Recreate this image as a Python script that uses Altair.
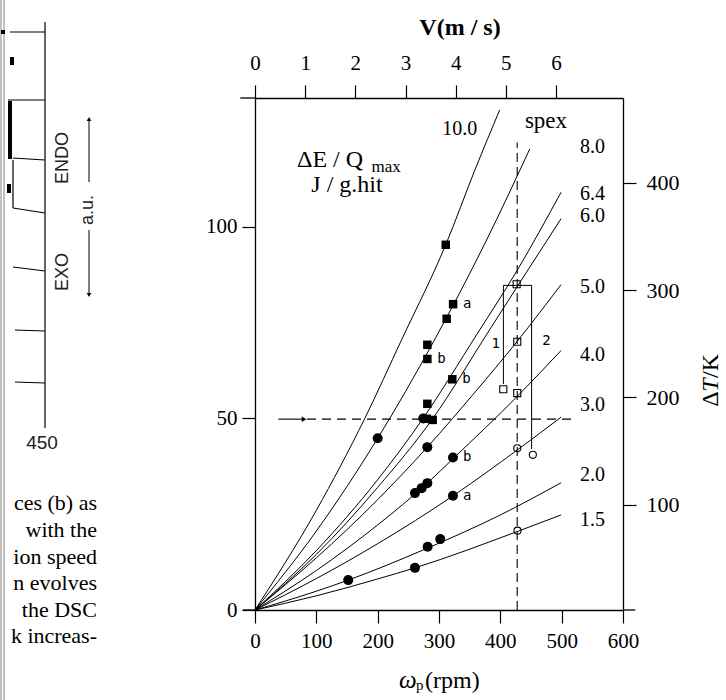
import altair as alt
import pandas as pd

SERIF = "Liberation Serif"
SANS = "Liberation Sans"
MONO = "DejaVu Sans Mono"

# ---------------- curves: omega_p (rpm) vs dE/Qmax (J/g.hit) ----------------
curve_names = ["10.0", "8.0", "6.4", "6.0", "5.0", "4.0", "3.0", "2.0", "1.5"]
rpm_c100 = [0, 100, 179, 239, 311, 359, 399]
val_c100 = [0, 26.0, 50.0, 70.5, 95.3, 115.0, 130.5]
rpm_c80 = [0, 100, 200, 291, 375, 448]
val_c80 = [0, 20.6, 44.8, 70.0, 95.7, 120.3]
rpm_c64 = [0, 100, 200, 274, 362, 427, 499]
val_c64 = [0, 15.5, 34.0, 50.0, 72.0, 88.5, 109.0]
rpm_c60 = [0, 100, 200, 290, 382, 428, 499]
val_c60 = [0, 14.5, 32.0, 50.0, 73.0, 84.5, 102.1]
rpm_c50 = [0, 100, 200, 281, 359, 427, 499]
val_c50 = [0, 13.6, 28.8, 42.5, 56.9, 70.0, 84.9]
rpm_c40 = [0, 100, 200, 281, 323, 428, 499]
val_c40 = [0, 10.3, 22.2, 33.1, 39.5, 55.8, 67.7]
rpm_c30 = [0, 100, 200, 323, 428, 499]
val_c30 = [0, 8.2, 17.3, 29.8, 41.8, 50.3]
rpm_c20 = [0, 100, 152, 282, 400, 499]
val_c20 = [0, 4.9, 7.8, 16.2, 24.8, 33.2]
rpm_c15 = [0, 100, 200, 261, 428, 499]
val_c15 = [0, 3.7, 8.1, 11.0, 20.5, 24.8]

# filled squares / circles (experimental points)
sq_rpm = [311, 323, 312.5, 281, 281, 321.7, 281, 280, 289.7]
sq_val = [95.3, 79.8, 76.0, 69.2, 65.5, 60.2, 53.8, 49.9, 49.6]
sq_tag = ["", "a", "", "", "b", "b", "", "", ""]
ci_rpm = [200, 274.4, 281, 322.8, 281, 271.7, 260.8, 322.8, 302, 281.5, 260.8, 152]
ci_val = [44.8, 50.0, 42.5, 39.8, 33.1, 31.8, 30.5, 29.8, 18.5, 16.5, 11.0, 7.8]
ci_tag = ["", "", "", "b", "", "", "", "a", "", "", "", ""]
# open symbols (spex)
osq_rpm = [404.8, 427.6, 427.6, 426.6]
osq_val = [57.6, 56.6, 70.0, 85.0]
oci_rpm = [427.6, 428, 453]
oci_val = [42.2, 20.7, 40.5]
# bracket joining the spex points (labels 1 and 2)
br_rpm = [405, 405, 451, 451]
br_val = [59.0, 84.7, 84.7, 42.0]
# dashed guides
vdash_rpm = [427.5]
vdash_from = [0]
vdash_to = [122]
hdash_val = [49.8]
hdash_from = [84.8]
hdash_to = [516]
arrow_from = [38]
arrow_to = [80]

# axes
x_ticks = [0, 100, 200, 300, 400, 500, 600]
y_ticks = [0, 50, 100]
v_ticks = [0, 1, 2, 3, 4, 5, 6]
dt_ticks = [100, 200, 300, 400]

# ---------------- left fragment of the neighbouring figure (page pixels) ----------------
frag_x1 = [45, 10, 8, 13, 13, 13, 13, 15, 15]
frag_y1 = [22, 32, 100, 158, 160, 208, 267, 330, 382]
frag_x2 = [45, 45, 45, 45, 13, 45, 45, 45, 45]
frag_y2 = [428, 32, 100, 160, 208, 213, 271, 331, 383]
blob_x = [10, 12, 9, 3]
blob_y1 = [101, 57, 184, 30]
blob_y2 = [159, 65, 193, 34]
arrow_x = [89, 89]
arrow_y1 = [121, 230]
arrow_y2 = [182, 293]
head_y = [119, 295]
head_shape = ["triangle-up", "triangle-down"]
border_x = [1, 4]
body_lines = ["ces (b) as", "with the", "ion speed", "n evolves", "the DSC", "k increas-"]
body_y = [503, 530, 557, 583, 610, 636]

# ---------------- scales ----------------
W, H = 368, 512
XS = alt.Scale(domain=[0, 600], nice=False, zero=False)
YS = alt.Scale(domain=[0, 133.6], nice=False, zero=False)
PX = alt.Scale(domain=[0, 726], range=[-255, 471], nice=False, zero=False)
PY = alt.Scale(domain=[0, 700], range=[-98, 602], nice=False, zero=False)


def axis(orient, values, pad, size=21):
    return alt.Axis(orient=orient, values=values, title=None, grid=False, tickSize=13,
                    tickWidth=1.2, tickColor="black", domain=True, domainColor="black",
                    domainWidth=1.3, labelFont=SERIF, labelFontSize=size, labelColor="black",
                    labelPadding=pad, labelFlush=False, labelOverlap=False, format="d")


# ---------------- main plot layers ----------------
rows = []
for name, xs_, ys_ in zip(curve_names,
                          [rpm_c100, rpm_c80, rpm_c64, rpm_c60, rpm_c50, rpm_c40, rpm_c30, rpm_c20, rpm_c15],
                          [val_c100, val_c80, val_c64, val_c60, val_c50, val_c40, val_c30, val_c20, val_c15]):
    for i, (a, b) in enumerate(zip(xs_, ys_)):
        rows.append({"curve": name, "rpm": a, "val": b, "i": i})
curves_df = pd.DataFrame(rows)

X = lambda f: alt.X(f, scale=XS, axis=None)
Y = lambda f: alt.Y(f, scale=YS, axis=None)

curves = alt.Chart(curves_df).mark_line(color="black", strokeWidth=1, interpolate="monotone").encode(
    x=X("rpm:Q"), y=Y("val:Q"), detail="curve:N", order="i:Q")

ext = alt.Chart(pd.DataFrame({"a": [-20, 600, -24], "b": [0, 620, 0], "v": [0, 0, 133.6]})).mark_rule(
    color="black", strokeWidth=1.3).encode(x=X("a:Q"), x2="b:Q", y=Y("v:Q"))

vdash = alt.Chart(pd.DataFrame({"r": vdash_rpm, "a": vdash_from, "b": vdash_to})).mark_rule(
    color="black", strokeWidth=1.1, strokeDash=[9, 5]).encode(x=X("r:Q"), y=Y("a:Q"), y2="b:Q")
hdash = alt.Chart(pd.DataFrame({"v": hdash_val, "a": hdash_from, "b": hdash_to})).mark_rule(
    color="black", strokeWidth=1.1, strokeDash=[9, 6]).encode(y=Y("v:Q"), x=X("a:Q"), x2="b:Q")
shaft = alt.Chart(pd.DataFrame({"v": hdash_val, "a": arrow_from, "b": arrow_to})).mark_rule(
    color="black", strokeWidth=1.1).encode(y=Y("v:Q"), x=X("a:Q"), x2="b:Q")
head = alt.Chart(pd.DataFrame({"v": hdash_val, "b": arrow_to})).mark_point(
    shape="triangle-right", filled=True, size=30, color="black", opacity=1).encode(y=Y("v:Q"), x=X("b:Q"))

bracket = alt.Chart(pd.DataFrame({"r": br_rpm, "v": br_val, "i": range(4)})).mark_line(
    color="black", strokeWidth=1).encode(x=X("r:Q"), y=Y("v:Q"), order="i:Q")

sq_df = pd.DataFrame({"r": sq_rpm, "v": sq_val, "t": sq_tag})
ci_df = pd.DataFrame({"r": ci_rpm, "v": ci_val, "t": ci_tag})
sq = alt.Chart(sq_df).mark_point(shape="square", filled=True, size=72, color="black", opacity=1).encode(
    x=X("r:Q"), y=Y("v:Q"))
ci = alt.Chart(ci_df).mark_circle(size=100, color="black", opacity=1).encode(x=X("r:Q"), y=Y("v:Q"))
osq = alt.Chart(pd.DataFrame({"r": osq_rpm, "v": osq_val})).mark_point(
    shape="square", filled=False, size=50, color="black", strokeWidth=1.1, opacity=1).encode(
    x=X("r:Q"), y=Y("v:Q"))
oci = alt.Chart(pd.DataFrame({"r": oci_rpm, "v": oci_val})).mark_point(
    shape="circle", filled=False, size=50, color="black", strokeWidth=1.1, opacity=1).encode(
    x=X("r:Q"), y=Y("v:Q"))

tags_df = pd.concat([sq_df, ci_df])
tags_df = tags_df[tags_df["t"] != ""]
tags = alt.Chart(tags_df).mark_text(font=MONO, fontSize=14, align="left", baseline="middle", dx=10,
                                    color="black").encode(x=X("r:Q"), y=Y("v:Q"), text="t:N")

# curve labels: column at the right, height of each curve's end (small nudges for legibility)
label_nudge = {"8.0": 0.6, "6.4": -0.4, "6.0": 0.6, "5.0": -0.5, "4.0": -1.1, "3.0": 3.2, "2.0": 2.0, "1.5": -1.3}
ends = curves_df.sort_values("i").groupby("curve").tail(1)
lab_df = pd.DataFrame({"t": [c for c in curve_names if c != "10.0"]})
lab_df["v"] = [float(ends[ends.curve == c].val.iloc[0]) + label_nudge[c] for c in lab_df.t]
lab_df["r"] = 530
labels = alt.Chart(lab_df).mark_text(font=SERIF, fontSize=20, align="left", baseline="middle",
                                     color="black").encode(x=X("r:Q"), y=Y("v:Q"), text="t:N")
lab10 = alt.Chart(pd.DataFrame({"r": [334], "v": [125.6], "t": ["10.0"]})).mark_text(
    font=SERIF, fontSize=20, align="center", baseline="middle", color="black").encode(
    x=X("r:Q"), y=Y("v:Q"), text="t:N")
spex = alt.Chart(pd.DataFrame({"r": [474.4], "v": [127.7], "t": ["spex"]})).mark_text(
    font=SERIF, fontSize=23, align="center", baseline="middle", color="black").encode(
    x=X("r:Q"), y=Y("v:Q"), text="t:N")
onetwo = alt.Chart(pd.DataFrame({"r": [392.4, 475.2], "v": [69.5, 70.2], "t": ["1", "2"]})).mark_text(
    font=MONO, fontSize=14, align="center", baseline="middle", color="black").encode(
    x=X("r:Q"), y=Y("v:Q"), text="t:N")
unit1 = alt.Chart(pd.DataFrame({"r": [68.5], "v": [117.5], "t": ["ΔE / Q"]})).mark_text(
    font=SERIF, fontSize=24, align="left", baseline="middle", color="black").encode(
    x=X("r:Q"), y=Y("v:Q"), text="t:N")
unit2 = alt.Chart(pd.DataFrame({"r": [190], "v": [115.6], "t": ["max"]})).mark_text(
    font=SERIF, fontSize=17, align="left", baseline="middle", color="black").encode(
    x=X("r:Q"), y=Y("v:Q"), text="t:N")
unit3 = alt.Chart(pd.DataFrame({"r": [150], "v": [110.8], "t": ["J / g.hit"]})).mark_text(
    font=SERIF, fontSize=24, align="center", baseline="middle", color="black").encode(
    x=X("r:Q"), y=Y("v:Q"), text="t:N")

main = alt.layer(curves, ext, vdash, hdash, shaft, head, bracket, sq, ci, osq, oci, tags,
                 labels, lab10, spex, onetwo, unit1, unit2, unit3)

# axes, each carried by an invisible layer
bottom_ax = alt.Chart(pd.DataFrame({"rpm": [0]})).mark_point(opacity=0).encode(
    x=alt.X("rpm:Q", scale=XS, axis=axis("bottom", x_ticks, 7)))
left_ax = alt.Chart(pd.DataFrame({"val": [0]})).mark_point(opacity=0).encode(
    y=alt.Y("val:Q", scale=YS, axis=axis("left", y_ticks, 5)))
top_ax = alt.Chart(pd.DataFrame({"V": [0]})).mark_point(opacity=0).encode(
    x=alt.X("V:Q", scale=alt.Scale(domain=[0, 7.335], nice=False, zero=False),
            axis=axis("top", v_ticks, 12)))
right_ax = alt.Chart(pd.DataFrame({"dT": [100]})).mark_point(opacity=0).encode(
    y=alt.Y("dT:Q", scale=alt.Scale(domain=[2, 479], nice=False, zero=False),
            axis=axis("right", dt_ticks, 10, 22)))

# ---------------- page-coordinate decorations ----------------
PXe = lambda f: alt.X(f, scale=PX, axis=None)
PYe = lambda f: alt.Y(f, scale=PY, axis=None)


def ptext(x, y, t, **kw):
    base = dict(color="black", baseline="middle", align="center")
    base.update(kw)
    return alt.Chart(pd.DataFrame({"x": x, "y": y, "t": t})).mark_text(**base).encode(
        x=PXe("x:Q"), y=PYe("y:Q"), text="t:N")


border = alt.Chart(pd.DataFrame({"x": border_x, "a": [0, 0], "b": [700, 700]})).mark_rule(
    color="#808080", strokeWidth=1).encode(x=PXe("x:Q"), y=PYe("a:Q"), y2="b:Q")
frag = alt.Chart(pd.DataFrame({"x1": frag_x1, "y1": frag_y1, "x2": frag_x2, "y2": frag_y2})).mark_rule(
    color="black", strokeWidth=1.2).encode(x=PXe("x1:Q"), x2="x2:Q", y=PYe("y1:Q"), y2="y2:Q")
blobs = alt.Chart(pd.DataFrame({"x": blob_x, "a": blob_y1, "b": blob_y2})).mark_rule(
    color="black", strokeWidth=4).encode(x=PXe("x:Q"), y=PYe("a:Q"), y2="b:Q")
arrows = alt.Chart(pd.DataFrame({"x": arrow_x, "a": arrow_y1, "b": arrow_y2})).mark_rule(
    color="black", strokeWidth=1).encode(x=PXe("x:Q"), y=PYe("a:Q"), y2="b:Q")
heads = alt.Chart(pd.DataFrame({"x": arrow_x, "y": head_y, "s": head_shape})).mark_point(
    filled=True, size=22, color="black", opacity=1).encode(
    x=PXe("x:Q"), y=PYe("y:Q"), shape=alt.Shape("s:N", scale=None))

endo = ptext([63, 63], [158, 272], ["ENDO", "EXO"], font=SANS, fontSize=18, angle=270, color="#222")
au = ptext([88], [210], ["a.u."], font=SANS, fontSize=18, angle=270, color="#222")
t450 = ptext([42], [443], ["450"], font=SANS, fontSize=19, color="#222")
body = ptext([97] * len(body_lines), body_y, body_lines, font=SERIF, fontSize=22, align="right")

vtitle = ptext([460], [28], ["V(m / s)"], font=SERIF, fontSize=24, fontWeight="bold")
dt1 = ptext([711], [399], ["Δ"], font=SERIF, fontSize=24, angle=270)
dt2 = ptext([711], [385], ["T"], font=SERIF, fontSize=24, angle=270, fontStyle="italic")
dt3 = ptext([711], [366], ["/K"], font=SERIF, fontSize=24, angle=270)
om1 = ptext([399], [688], ["ω"], font=SERIF, fontSize=25, align="left", baseline="alphabetic",
            fontStyle="italic")
om2 = ptext([416], [690], ["p"], font=SERIF, fontSize=15, align="left", baseline="alphabetic")
om3 = ptext([425], [688], ["(rpm)"], font=SERIF, fontSize=24, align="left", baseline="alphabetic")

chart = alt.layer(
    main, bottom_ax, left_ax, top_ax, right_ax,
    border, frag, blobs, arrows, heads, endo, au, t450, body,
    vtitle, dt1, dt2, dt3, om1, om2, om3,
).resolve_scale(x="independent", y="independent").properties(
    width=W, height=H,
    autosize=alt.AutoSizeParams(type="none"),
    padding={"left": 255, "top": 98, "right": 103, "bottom": 90},
    background="white",
).configure_view(stroke=None)

chart.save("out.html", embed_options={"renderer": "svg", "actions": False})
